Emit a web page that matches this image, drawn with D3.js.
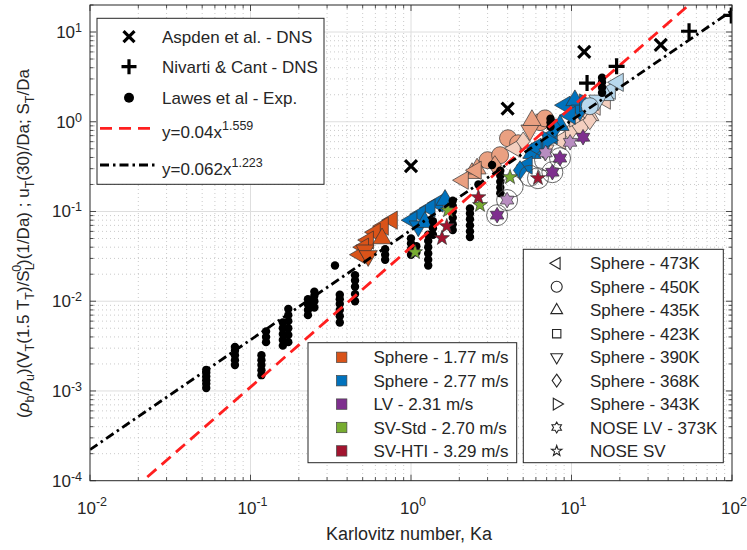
<!DOCTYPE html>
<html><head><meta charset="utf-8">
<script src="https://cdn.jsdelivr.net/npm/d3@7"></script>
<style>
body{margin:0;background:#fff}
text{font-family:"Liberation Sans",Arial,Helvetica,sans-serif;fill:#262626}
</style>
</head><body>
<svg id="c" width="747" height="550"></svg>
<script>
// ---------------- DATA ----------------
const xTickExps = [-2, -1, 0, 1, 2];
const yTickExps = [-4, -3, -2, -1, 0, 1];
const xLabel = "Karlovitz number, Ka";

const fitCoef = [0.04, 0.062];
const fitExp = [1.559, 1.223];

const aspdenDNS = [[1.0, 0.32], [4.0, 1.40], [12.0, 6.0], [36, 7.2]];
const nivartiDNS = [[12.5, 2.7], [19.1, 4.15], [54, 10.2], [99, 15.3]];

const lawesExp = [
  [0.053,1.08e-3],[0.053,1.2e-3],[0.053,1.32e-3],[0.053,1.45e-3],[0.053,1.6e-3],[0.053,1.72e-3],
  [0.080,1.95e-3],[0.080,2.2e-3],[0.080,2.5e-3],[0.080,2.8e-3],[0.080,3.1e-3],
  [0.117,1.5e-3],[0.117,1.7e-3],[0.117,1.95e-3],[0.117,2.2e-3],[0.117,2.5e-3],
  [0.125,3.5e-3],[0.125,4.0e-3],[0.125,4.6e-3],
  [0.159,3.2e-3],[0.159,3.7e-3],[0.159,4.3e-3],[0.159,5.0e-3],[0.159,5.8e-3],
  [0.172,3.5e-3],[0.172,4.2e-3],[0.172,5.0e-3],[0.172,6.0e-3],[0.172,7.0e-3],[0.172,8.2e-3],
  [0.228,7.0e-3],[0.228,8.0e-3],[0.228,9.2e-3],[0.228,1.05e-2],
  [0.25,8.5e-3],[0.25,1.0e-2],[0.25,1.15e-2],[0.25,1.28e-2],
  [0.336,2.5e-2],
  [0.36,5.8e-3],[0.36,6.8e-3],[0.36,8.0e-3],[0.36,9.3e-3],[0.36,1.05e-2],[0.36,1.18e-2],
  [0.448,1.0e-2],[0.448,1.2e-2],[0.448,1.45e-2],[0.448,1.7e-2],[0.448,1.95e-2],
  [0.69,0.029],[0.69,0.033],[0.69,0.038],
  [1.0,0.033],[1.0,0.038],[1.0,0.044],[1.0,0.05],
  [1.08,0.035],[1.08,0.041],
  [1.28,0.025],[1.28,0.029],[1.28,0.034],[1.28,0.04],[1.28,0.047],[1.28,0.055],
  [1.37,0.055],[1.37,0.065],[1.37,0.078],
  [1.82,0.062],[1.82,0.072],[1.82,0.085],[1.82,0.1],[1.82,0.115],[1.82,0.132],
  [2.33,0.052],[2.33,0.06],[2.33,0.07],[2.33,0.082],[2.33,0.095],[2.33,0.108],
  [2.63,0.2],[3.2,0.33],
  [3.6,0.16],[3.6,0.185],[3.6,0.215],[3.6,0.25],[3.6,0.285],
  [7.4,0.88],[7.4,0.98],[7.4,1.08],
  [15.5,2.1],[15.5,2.4],[15.5,2.75],[15.5,3.1]
];

// [Ka, value, temperature K, shade group]
const sphere177 = [
  [0.762,0.080,473,0],[0.67,0.0686,473,0],[0.597,0.0588,473,0],[0.541,0.048,473,0],
  [0.504,0.040,473,0],[0.481,0.033,473,0],[0.517,0.037,390,0],[0.541,0.032,390,0],[0.66,0.050,435,0],
  [4.02,0.655,450,1],[4.65,0.576,450,1],[3.0,0.373,450,1],[6.37,0.99,450,1],[6.84,1.09,450,1],
  [3.59,0.424,450,1],[2.40,0.267,435,1],[2.58,0.30,435,1],[2.11,0.223,473,1],[5.51,0.804,390,1],
  [5.67,1.04,435,1],[3.33,0.328,368,1],[2.54,0.288,473,1],
  [4.45,0.507,473,2],[5.0,0.603,368,2],[14.0,1.49,473,2],[16.2,1.74,473,2],[13.0,1.18,435,2],
  [11.3,0.914,450,2],[9.8,0.76,368,2],[8.5,0.62,473,2],[6.84,0.482,390,2],[13.0,1.04,368,2],[10.5,1.1,343,2]
];
const sphere277 = [
  [1.47,0.124,473,0],[1.31,0.109,473,0],[1.14,0.093,473,0],[1.01,0.080,473,0],
  [1.11,0.0686,390,0],[1.22,0.076,435,0],[1.63,0.134,435,0],
  [9.11,1.53,473,0],[10.5,1.73,435,0],[11.3,1.34,390,0],[9.8,1.18,473,0],[8.48,0.914,435,0],
  [12.1,1.62,343,0],[7.56,0.707,473,0],[6.64,0.52,390,0],[5.67,0.446,435,0],[5.28,0.328,473,0],
  [4.78,0.288,368,0],[7.89,0.847,368,0],[7.14,0.622,343,0],[6.0,0.52,473,0],
  [17.4,2.24,473,2],[19.5,2.75,473,2],[16.2,1.97,435,2],[14.6,1.73,390,2],[13.0,1.49,450,2]
];
const lv231 = [
  [11.8,0.672,373,0],[8.48,0.393,373,0],[7.6,0.274,373,0],[3.44,0.091,373,0],
  [9.8,0.59,373,1],[3.97,0.134,373,1],[6.9,0.45,373,1]
];
const svStd270 = [[4.14,0.241,0,0],[2.69,0.118,0,0],[1.06,0.0352,0,0],[1.70,0.103,0,0]];
const svHti329 = [[2.63,0.144,0,0],[6.18,0.235,0,0],[1.56,0.0505,0,0],[1.67,0.0686,0,0]];
const ringed = [[3.44,0.091],[3.97,0.134],[6.18,0.235],[7.6,0.274],[8.48,0.393],[5.5,0.25],[4.3,0.19],[6.84,0.373]];

const colorNames = ["Sphere - 1.77 m/s","Sphere - 2.77 m/s","LV - 2.31 m/s","SV-Std - 2.70 m/s","SV-HTI - 3.29 m/s"];
const shapeNames = ["Sphere - 473K","Sphere - 450K","Sphere - 435K","Sphere - 423K","Sphere - 390K","Sphere - 368K","Sphere - 343K","NOSE LV - 373K","NOSE SV"];
const lineNames = ["Aspden et al. - DNS","Nivarti & Cant - DNS","Lawes et al - Exp."];

// ---------------- STYLE / LAYOUT ----------------
const baseColors = ["#D95319","#0072BD","#7E2F8E","#77AC30","#A2142F"];
const shadeMix = [0, 0.45, 0.72];
const tempShape = {473:"<",450:"o",435:"^",423:"s",390:"v",368:"d",343:">",373:"h",0:"p"};
const shapeOrder = ["<","o","^","s","v","d",">","h","p"];

const L = 90, R = 732, T = 5, B = 480.7;
const svg = d3.select("#c");
const x = d3.scaleLog().domain([0.01, 100]).range([L, R]);
const y = d3.scaleLog().domain([1e-4, 20]).range([B, T]);

function shapePath(s, r) {
  const h = 0.866 * r;
  switch (s) {
    case "<": return `M${-r},0L${r/2},${-h}L${r/2},${h}Z`;
    case ">": return `M${r},0L${-r/2},${-h}L${-r/2},${h}Z`;
    case "^": return `M0,${-r}L${h},${r/2}L${-h},${r/2}Z`;
    case "v": return `M0,${r}L${h},${-r/2}L${-h},${-r/2}Z`;
    case "s": { const a = r*0.72; return `M${-a},${-a}H${a}V${a}H${-a}Z`; }
    case "d": return `M0,${-r}L${r*0.7},0L0,${r}L${-r*0.7},0Z`;
    case "o": return `M${r},0A${r},${r} 0 1,1 ${-r},0A${r},${r} 0 1,1 ${r},0Z`;
    case "p": return star(5, r, r*0.4);
    case "h": return star(6, r, r*0.58);
  }
}
function star(n, ro, ri) {
  let p = "";
  for (let i = 0; i < 2*n; i++) {
    const a = -Math.PI/2 + i*Math.PI/n, rr = i%2 ? ri : ro;
    p += (i ? "L" : "M") + (rr*Math.cos(a)).toFixed(2) + "," + (rr*Math.sin(a)).toFixed(2);
  }
  return p + "Z";
}
function shadeColor(ci, tone) { return d3.interpolateRgb(baseColors[ci], "#ffffff")(shadeMix[tone]); }
function markerSize(s) { return s === "o" ? 8.5 : (s === "p" || s === "h") ? 7.8 : s === "s" ? 8 : s === "d" ? 9.5 : 10.5; }

// clip
svg.append("defs").append("clipPath").attr("id","clip")
  .append("rect").attr("x",L).attr("y",T).attr("width",R-L).attr("height",B-T);

// ---------------- GRID ----------------
const grid = svg.append("g");
const xMinor = [], yMinor = [];
for (let e = -2; e < 2; e++) for (let m = 2; m <= 9; m++) xMinor.push(m*Math.pow(10,e));
for (let e = -4; e < 1; e++) for (let m = 2; m <= 9; m++) yMinor.push(m*Math.pow(10,e));
grid.selectAll(".xm").data(xMinor).join("line")
  .attr("x1",d=>x(d)).attr("x2",d=>x(d)).attr("y1",T).attr("y2",B)
  .attr("stroke","#bdbdbd").attr("stroke-width",0.8).attr("stroke-dasharray","1,3");
grid.selectAll(".ym").data(yMinor).join("line")
  .attr("y1",d=>y(d)).attr("y2",d=>y(d)).attr("x1",L).attr("x2",R)
  .attr("stroke","#bdbdbd").attr("stroke-width",0.8).attr("stroke-dasharray","1,3");
grid.selectAll(".xM").data(xTickExps.slice(1,-1)).join("line")
  .attr("x1",d=>x(Math.pow(10,d))).attr("x2",d=>x(Math.pow(10,d))).attr("y1",T).attr("y2",B)
  .attr("stroke","#dedede").attr("stroke-width",1);
grid.selectAll(".yM").data(yTickExps.slice(1)).join("line")
  .attr("y1",d=>y(Math.pow(10,d))).attr("y2",d=>y(Math.pow(10,d))).attr("x1",L).attr("x2",R)
  .attr("stroke","#dedede").attr("stroke-width",1);

// ---------------- MARKS ----------------
const plot = svg.append("g").attr("clip-path","url(#clip)");

function drawSeries(data, ci) {
  plot.append("g").selectAll("path").data(data).join("path")
    .attr("transform", d => `translate(${x(d[0])},${y(d[1])})`)
    .attr("d", d => { const s = tempShape[d[2]]; return shapePath(s, markerSize(s)); })
    .attr("fill", d => shadeColor(ci, d[3]))
    .attr("stroke", "#333").attr("stroke-width", 0.7).attr("stroke-linejoin","miter");
}
drawSeries(sphere177, 0);
drawSeries(sphere277, 1);

plot.append("g").selectAll("circle").data(lawesExp).join("circle")
  .attr("cx", d => x(d[0])).attr("cy", d => y(d[1])).attr("r", 4.2).attr("fill", "#000");

plot.append("g").selectAll("circle").data(ringed).join("circle")
  .attr("cx", d => x(d[0])).attr("cy", d => y(d[1])).attr("r", 10.5)
  .attr("fill", "none").attr("stroke", "#444").attr("stroke-width", 0.8);
drawSeries(lv231, 2);
drawSeries(svStd270, 3);
drawSeries(svHti329, 4);

// fit lines
const fitStyles = [{c:"#ff1f1f",dash:"12,7"},{c:"#000",dash:"9,4,2.5,4"}];
fitCoef.forEach((a, i) => {
  const pts = [0.01, 100].map(k => [k, a*Math.pow(k, fitExp[i])]);
  plot.append("path").datum(pts)
    .attr("d", d3.line().x(d => x(d[0])).y(d => y(d[1])))
    .attr("fill","none").attr("stroke", fitStyles[i].c).attr("stroke-width", 2.8)
    .attr("stroke-dasharray", fitStyles[i].dash);
});

function crossPath(s) { return `M${-s},${-s}L${s},${s}M${-s},${s}L${s},${-s}`; }
function plusPath(s) { return `M${-s},0H${s}M0,${-s}V${s}`; }
plot.append("g").selectAll("path").data(aspdenDNS).join("path")
  .attr("transform", d => `translate(${x(d[0])},${y(d[1])})`)
  .attr("d", crossPath(6)).attr("stroke","#000").attr("stroke-width",3.2).attr("fill","none");
plot.append("g").selectAll("path").data(nivartiDNS).join("path")
  .attr("transform", d => `translate(${x(d[0])},${y(d[1])})`)
  .attr("d", plusPath(8)).attr("stroke","#000").attr("stroke-width",3.2).attr("fill","none");

// ---------------- AXES / FRAME ----------------
const ax = svg.append("g");
const tickC = "#262626";
const allX = xTickExps.map(e => Math.pow(10, e));
const allY = yTickExps.map(e => Math.pow(10, e));
function tick(g, x1, y1, x2, y2) { g.append("line").attr("x1",x1).attr("y1",y1).attr("x2",x2).attr("y2",y2).attr("stroke",tickC).attr("stroke-width",0.8); }
allX.forEach(v => { const px = x(v); tick(ax, px, B, px, B-6); tick(ax, px, T, px, T+6); });
xMinor.forEach(v => { const px = x(v); tick(ax, px, B, px, B-3.5); tick(ax, px, T, px, T+3.5); });
allY.forEach(v => { const py = y(v); tick(ax, L, py, L+6, py); tick(ax, R, py, R-6, py); });
yMinor.concat([20]).forEach(v => { const py = y(v); tick(ax, L, py, L+3.5, py); tick(ax, R, py, R-3.5, py); });
ax.append("rect").attr("x",L).attr("y",T).attr("width",R-L).attr("height",B-T)
  .attr("fill","none").attr("stroke",tickC).attr("stroke-width",1);

// tick labels
xTickExps.forEach(e => {
  const t = ax.append("text").attr("x", x(Math.pow(10,e)) + 2).attr("y", 514)
    .attr("text-anchor","middle").attr("font-size",17);
  t.append("tspan").text("10");
  t.append("tspan").attr("dy",-8).attr("font-size",12.5).text(e < 0 ? "-" + (-e) : e);
});
yTickExps.forEach(e => {
  const t = ax.append("text").attr("x", 82).attr("y", y(Math.pow(10,e)) + 6)
    .attr("text-anchor","end").attr("font-size",17);
  t.append("tspan").text("10");
  t.append("tspan").attr("dy",-6).attr("font-size",12.5).text(e < 0 ? "-" + (-e) : e);
});

// axis labels
svg.append("text").attr("x", 409).attr("y", 540).attr("text-anchor","middle")
  .attr("font-size",18).text(xLabel);

const yl = svg.append("text").attr("transform","translate(29,243.5) rotate(-90)")
  .attr("text-anchor","middle").attr("font-size",17);
const parts = [
  ["(",0],["ρ",0,"i"],["b",1],["/",0],["ρ",0,"i"],["u",1],[")(V",0],["T",1],["(1.5 T",0],["T",1],[")/S",0],["L",1],["0",2],[")(1/Da) ; u",0],["T",1],["(30)/Da; S",0],["T",1],["/Da",0]
];
let cur = 0;
parts.forEach(p => {
  const ts = yl.append("tspan").text(p[0]);
  if (p[2] === "i") ts.attr("font-style","italic");
  let target = p[1] === 1 ? 5 : p[1] === 2 ? -8 : 0;
  if (p[1] === 2) ts.attr("dx", -8.5);
  if (p[1] >= 1) ts.attr("font-size", 12.5);
  ts.attr("dy", target - cur); cur = target;
});

// ---------------- LEGENDS ----------------
// legend 1
const lg1 = svg.append("g");
lg1.append("rect").attr("x",97).attr("y",18.3).attr("width",227).attr("height",166)
  .attr("fill","#fff").attr("stroke",tickC).attr("stroke-width",1);
const l1Rows = [36.7, 66.7, 97.7];
lg1.append("path").attr("transform",`translate(129,${l1Rows[0]})`).attr("d",crossPath(5.5))
  .attr("stroke","#000").attr("stroke-width",3.2);
lg1.append("path").attr("transform",`translate(129,${l1Rows[1]})`).attr("d",plusPath(7.5))
  .attr("stroke","#000").attr("stroke-width",3.2);
lg1.append("circle").attr("cx",129).attr("cy",l1Rows[2]).attr("r",5).attr("fill","#000");
lineNames.forEach((n, i) => lg1.append("text").attr("x",162).attr("y",l1Rows[i]+6).attr("font-size",17).text(n));
const fitRows = [128.3, 165];
fitCoef.forEach((a, i) => {
  lg1.append("line").attr("x1",100).attr("x2",156).attr("y1",fitRows[i]).attr("y2",fitRows[i])
    .attr("stroke",fitStyles[i].c).attr("stroke-width",2.8).attr("stroke-dasharray",fitStyles[i].dash);
  const t = lg1.append("text").attr("x",162).attr("y",fitRows[i]+10).attr("font-size",17);
  t.append("tspan").text("y=" + a + "x");
  t.append("tspan").attr("dy",-8).attr("font-size",12.5).text(fitExp[i]);
});

// legend 2 (colors)
const lg2 = svg.append("g");
lg2.append("rect").attr("x",308).attr("y",342.7).attr("width",208.7).attr("height",120)
  .attr("fill","#fff").attr("stroke",tickC).attr("stroke-width",1);
colorNames.forEach((n, i) => {
  const cy = 357.3 + i*23.4;
  lg2.append("rect").attr("x",336.5).attr("y",cy-5.2).attr("width",10.4).attr("height",10.4)
    .attr("fill",baseColors[i]).attr("stroke","#444").attr("stroke-width",0.7);
  lg2.append("text").attr("x",373.5).attr("y",cy+6).attr("font-size",17).text(n);
});

// legend 3 (shapes)
const lg3 = svg.append("g");
lg3.append("rect").attr("x",523.3).attr("y",249.3).attr("width",200).attr("height",213.4)
  .attr("fill","#fff").attr("stroke",tickC).attr("stroke-width",1);
const legSize = {"<":6.8,"o":5.5,"^":6.8,"s":5.8,"v":6.8,"d":6.5,">":6.8,"h":5.5,"p":5.5};
shapeNames.forEach((n, i) => {
  const cy = 263.3 + i*23.46;
  const s = shapeOrder[i];
  lg3.append("path").attr("transform",`translate(556.7,${cy})`).attr("d",shapePath(s, legSize[s]))
    .attr("fill","none").attr("stroke","#262626").attr("stroke-width",1.1);
  lg3.append("text").attr("x",590).attr("y",cy+6).attr("font-size",17).text(n);
});
</script>
</body></html>
